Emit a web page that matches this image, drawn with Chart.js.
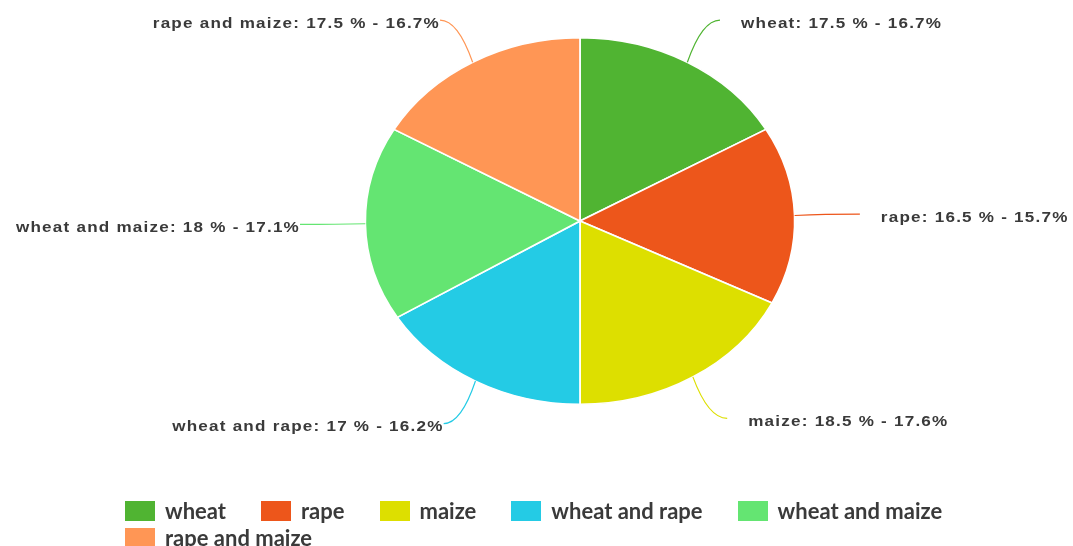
<!DOCTYPE html>
<html>
<head>
<meta charset="utf-8">
<script src="https://cdn.jsdelivr.net/npm/chart.js@4"></script>
<style>
  html, body { margin: 0; padding: 0; background: #fff; }
  #wrap { position: relative; width: 1073px; height: 546px; overflow: hidden; }
  #c { position: absolute; left: 0; top: 0; }
  #legend { position: absolute; left: 125px; top: 499px; width: 900px; font-family: Lato, "Open Sans", sans-serif; font-weight: bold; font-size: 22px; color: #3a3a3a; line-height: 24.5px; }
  .item { display: inline-flex; align-items: center; margin-right: 35px; white-space: nowrap; }
  .box { display: inline-block; width: 30px; height: 20px; margin-right: 10px; }
</style>
</head>
<body>
<div id="wrap">
  <canvas id="c" width="1073" height="546"></canvas>
  <div id="legend"></div>
</div>
<script>
const categories = ["wheat", "rape", "maize", "wheat and rape", "wheat and maize", "rape and maize"];
const values = [17.5, 16.5, 18.5, 17, 18, 17.5];
const colors = ["#50B432", "#ED561B", "#DDDF00", "#24CBE5", "#64E572", "#FF9655"];

const total = values.reduce((a, b) => a + b, 0);
const percents = values.map(v => (v / total * 100).toFixed(1));

const SX = 215 / 183.5;   // horizontal stretch of the pie
const LRX = 280, LRY = 232; // label anchor ellipse

const ellipsePlugin = {
  id: 'ellipse',
  beforeDatasetsDraw(chart) {
    const arc = chart.getDatasetMeta(0).data[0];
    const ctx = chart.ctx;
    ctx.save();
    ctx.translate(arc.x, arc.y);
    ctx.scale(SX, 1);
    ctx.translate(-arc.x, -arc.y);
  },
  afterDatasetsDraw(chart) {
    const ctx = chart.ctx;
    ctx.restore();
    const meta = chart.getDatasetMeta(0);
    meta.data.forEach((arc, i) => {
      const mid = (arc.startAngle + arc.endAngle) / 2;
      const cx = arc.x, cy = arc.y, r = arc.outerRadius;
      const ex = cx + r * SX * Math.cos(mid);
      const ey = cy + r * Math.sin(mid);
      const lx = cx + LRX * Math.cos(mid);
      const ly = cy + LRY * Math.sin(mid);
      const right = Math.cos(mid) >= 0;
      ctx.save();
      ctx.strokeStyle = colors[i];
      ctx.lineWidth = 1.2;
      ctx.beginPath();
      ctx.moveTo(ex, ey);
      ctx.quadraticCurveTo(ex + (lx - ex) * 0.45, ly, lx, ly);
      ctx.stroke();
      const text = categories[i] + ': ' + values[i] + ' % - ' + percents[i] + '%';
      ctx.font = 'bold 14px "Liberation Sans", Arial, sans-serif';
      ctx.fillStyle = '#3a3a3a';
      ctx.textBaseline = 'middle';
      ctx.letterSpacing = '1px';
      const tx = right ? lx + 21 : lx;
      const ty = ly + 4;
      ctx.translate(tx, ty);
      ctx.scale(1.22, 1);
      ctx.textAlign = right ? 'left' : 'right';
      ctx.fillText(text, 0, 0);
      ctx.restore();
    });
  }
};

new Chart(document.getElementById('c'), {
  type: 'pie',
  data: {
    labels: categories,
    datasets: [{
      data: values,
      backgroundColor: colors,
      borderColor: '#ffffff',
      borderWidth: 1.5
    }]
  },
  options: {
    responsive: false,
    animation: false,
    events: [],
    layout: { padding: { top: 37, bottom: 141, left: 396, right: 309 } },
    plugins: { legend: { display: false }, tooltip: { enabled: false } }
  },
  plugins: [ellipsePlugin]
});

const lg = document.getElementById('legend');
categories.forEach((c, i) => {
  const it = document.createElement('span');
  it.className = 'item';
  const b = document.createElement('span');
  b.className = 'box';
  b.style.background = colors[i];
  const t = document.createElement('span');
  t.textContent = c;
  it.appendChild(b); it.appendChild(t);
  lg.appendChild(it);
});
</script>
</body>
</html>
